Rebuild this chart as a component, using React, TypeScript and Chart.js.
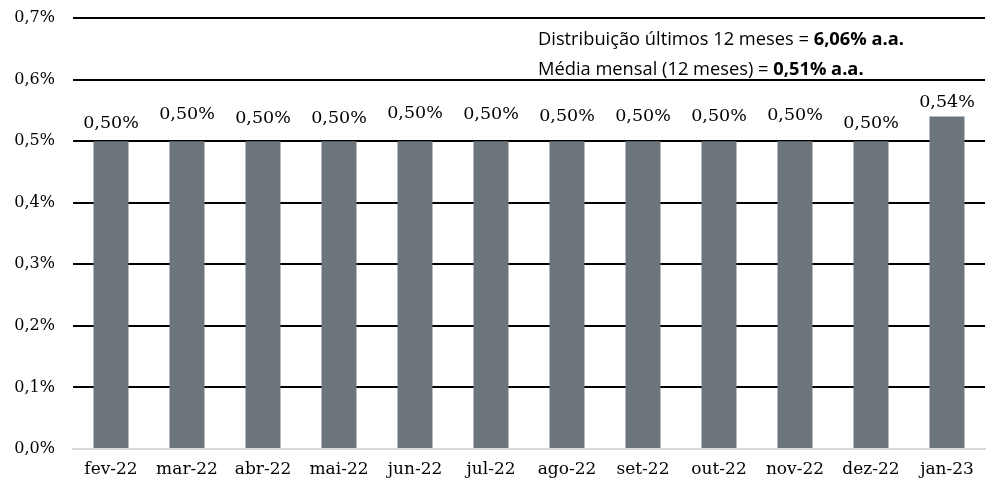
import React, { useEffect, useRef } from "react";
import { Chart, registerables } from "chart.js";

Chart.register(...registerables);

const categories = ["fev-22", "mar-22", "abr-22", "mai-22", "jun-22", "jul-22", "ago-22", "set-22", "out-22", "nov-22", "dez-22", "jan-23"];
const values = [0.5, 0.5, 0.5, 0.5, 0.5, 0.5, 0.5, 0.5, 0.5, 0.5, 0.5, 0.54];
const valueLabels = ["0,50%", "0,50%", "0,50%", "0,50%", "0,50%", "0,50%", "0,50%", "0,50%", "0,50%", "0,50%", "0,50%", "0,54%"];
const labelLift = [18, 27, 23, 23, 28, 27, 24.5, 24.5, 24.5, 26, 17.5, 14.5];
const summaryNormal = ["Distribuição últimos 12 meses = ", "Média mensal (12 meses) = "];
const summaryBold = ["6,06% a.a.", "0,51% a.a."];

const SERIF = "'DejaVu Serif', serif";
const SANS = "'Open Sans', 'Noto Sans', sans-serif";

export default function App() {
  const ref = useRef<HTMLCanvasElement | null>(null);

  useEffect(() => {
    document.body.style.margin = "0";
    if (!ref.current) return;

    const labelPlugin = {
      id: "labels",
      afterDatasetsDraw(chart: any) {
        const ctx = chart.ctx;
        const meta = chart.getDatasetMeta(0);
        ctx.save();
        ctx.fillStyle = "#000";
        ctx.font = `17.5px ${SERIF}`;
        ctx.textAlign = "center";
        ctx.textBaseline = "middle";
        meta.data.forEach((bar: any, i: number) => {
          ctx.fillText(valueLabels[i], bar.x, bar.y - labelLift[i]);
        });
        // summary text
        const x0 = 538;
        const ys = [40, 70];
        ctx.textAlign = "left";
        summaryNormal.forEach((t, i) => {
          ctx.font = `18.3px ${SANS}`;
          ctx.fillText(t, x0, ys[i]);
          const w = ctx.measureText(t).width;
          ctx.font = `bold 18.3px ${SANS}`;
          ctx.fillText(summaryBold[i], x0 + w, ys[i]);
        });
        ctx.restore();
      },
    };

    const chart = new Chart(ref.current, {
      type: "bar",
      data: {
        labels: categories,
        datasets: [
          {
            data: values,
            backgroundColor: "#6d757c",
            barPercentage: 0.46,
            categoryPercentage: 1,
          },
        ],
      },
      options: {
        animation: false,
        responsive: true,
        maintainAspectRatio: false,
        layout: { padding: { top: 18, right: 10, left: 0, bottom: 0 } },
        plugins: {
          legend: { display: false },
          tooltip: { enabled: false },
        },
        scales: {
          x: {
            grid: { display: false, drawTicks: false },
            border: { display: true, color: "#d9d9d9", width: 2 },
            ticks: {
              color: "#000",
              font: { family: SERIF, size: 17 },
              padding: 10,
              maxRotation: 0,
              autoSkip: false,
            },
            afterFit: (s: any) => {
              s.height = 37;
            },
          },
          y: {
            min: 0,
            max: 0.7,
            grid: {
              drawTicks: true,
              tickLength: 18,
              tickColor: "rgba(0,0,0,0)",
              lineWidth: 2,
              color: (c: any) => (Math.abs(c.tick.value) < 1e-9 ? "#d9d9d9" : "#000"),
            },
            border: { display: false },
            ticks: {
              stepSize: 0.1,
              color: "#000",
              font: { family: SERIF, size: 16 },
              padding: 0,
              callback: (v: any) => Number(v).toFixed(1).replace(".", ",") + "%",
            },
            afterFit: (s: any) => {
              s.width = 73;
            },
          },
        },
      },
      plugins: [labelPlugin],
    });

    return () => chart.destroy();
  }, []);

  return (
    <div style={{ position: "absolute", left: 0, top: 0, width: 995, height: 486, background: "#fff" }}>
      <canvas ref={ref} />
    </div>
  );
}
